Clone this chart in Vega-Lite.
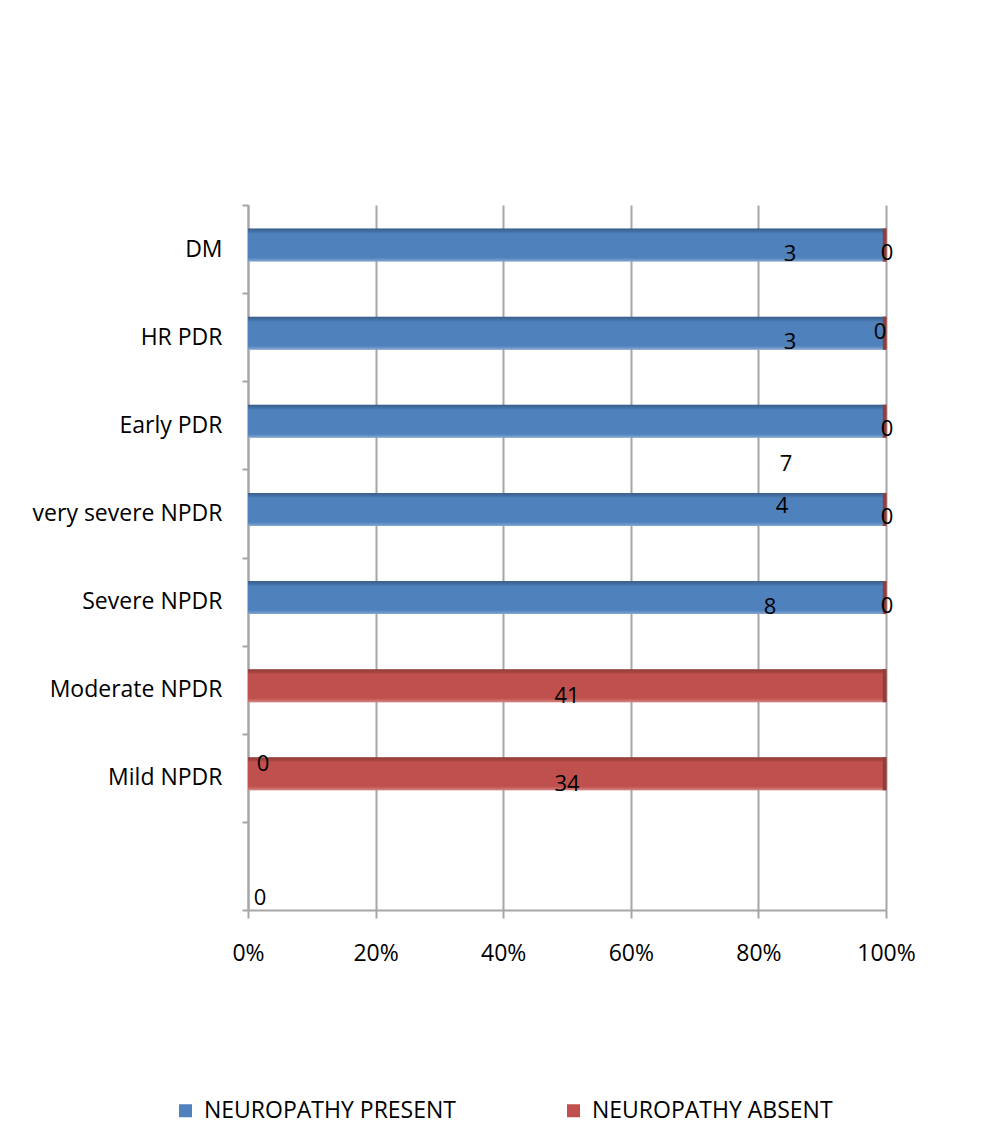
{
  "$schema": "https://vega.github.io/schema/vega-lite/v6.json",
  "width": 638,
  "height": 705,
  "autosize": {"type": "none"},
  "padding": {"left": 248, "top": 205, "right": 106, "bottom": 237},
  "background": "white",
  "config": {
    "view": {"stroke": null},
    "font": "Open Sans",
    "text": {"font": "Open Sans", "fontSize": 22, "color": "black", "align": "center", "baseline": "middle"}
  },
  "data": {
    "values": [
      {"category": "DM", "series": "NEUROPATHY PRESENT", "value": 3},
      {"category": "DM", "series": "NEUROPATHY ABSENT", "value": 0},
      {"category": "HR PDR", "series": "NEUROPATHY PRESENT", "value": 3},
      {"category": "HR PDR", "series": "NEUROPATHY ABSENT", "value": 0},
      {"category": "Early PDR", "series": "NEUROPATHY PRESENT", "value": 7},
      {"category": "Early PDR", "series": "NEUROPATHY ABSENT", "value": 0},
      {"category": "very severe NPDR", "series": "NEUROPATHY PRESENT", "value": 4},
      {"category": "very severe NPDR", "series": "NEUROPATHY ABSENT", "value": 0},
      {"category": "Severe NPDR", "series": "NEUROPATHY PRESENT", "value": 8},
      {"category": "Severe NPDR", "series": "NEUROPATHY ABSENT", "value": 0},
      {"category": "Moderate NPDR", "series": "NEUROPATHY PRESENT", "value": 0},
      {"category": "Moderate NPDR", "series": "NEUROPATHY ABSENT", "value": 41},
      {"category": "Mild NPDR", "series": "NEUROPATHY PRESENT", "value": 0},
      {"category": "Mild NPDR", "series": "NEUROPATHY ABSENT", "value": 34},
      {"category": " ", "series": "NEUROPATHY PRESENT", "value": 0},
      {"category": " ", "series": "NEUROPATHY ABSENT", "value": 0}
    ]
  },
  "encoding": {
    "y": {
      "field": "category",
      "type": "nominal",
      "title": null,
      "scale": {
        "domain": ["DM", "HR PDR", "Early PDR", "very severe NPDR", "Severe NPDR", "Moderate NPDR", "Mild NPDR", " "],
        "paddingInner": 0,
        "paddingOuter": 0
      },
      "axis": {
        "tickBand": "extent",
        "grid": false,
        "domainColor": "#a6a6a6",
        "domainWidth": 2,
        "tickColor": "#a6a6a6",
        "tickWidth": 2,
        "tickSize": 6,
        "labelFontSize": 23,
        "labelColor": "black",
        "labelPadding": 20,
        "labelLimit": 400,
        "labelFont": "Open Sans"
      }
    }
  },
  "layer": [
    {
      "transform": [{"filter": "datum.category !== ' '"}],
      "mark": {"type": "bar", "height": {"band": 0.375}},
      "encoding": {
        "x": {
          "field": "value",
          "type": "quantitative",
          "stack": "normalize",
          "title": null,
          "scale": {"domain": [0, 1], "nice": false},
          "axis": {
            "format": "%",
            "values": [0, 0.2, 0.4, 0.6, 0.8, 1],
            "grid": true,
            "gridColor": "#a6a6a6",
            "gridWidth": 2,
            "domainColor": "#a6a6a6",
            "domainWidth": 2,
            "tickColor": "#a6a6a6",
            "tickWidth": 2,
            "tickSize": 8,
            "labelFontSize": 23,
            "labelColor": "black",
            "labelPadding": 24,
            "labelFlush": false,
            "labelOverlap": false,
            "labelFont": "Open Sans"
          }
        },
        "yOffset": {"value": -4},
        "color": {
          "field": "series",
          "type": "nominal",
          "scale": {
            "domain": ["NEUROPATHY PRESENT", "NEUROPATHY ABSENT"],
            "range": ["#4F81BD", "#C0504D"]
          },
          "legend": {
            "orient": "none",
            "legendX": -74,
            "legendY": 894,
            "direction": "horizontal",
            "title": null,
            "symbolType": "square",
            "symbolSize": 169,
            "symbolStrokeWidth": 0,
            "labelFontSize": 23,
            "labelColor": "black",
            "labelFont": "Open Sans",
            "labelLimit": 500,
            "labelOffset": 7,
            "columnPadding": 106
          }
        },
        "order": {"field": "series", "sort": "descending"}
      }
    },
    {
      "transform": [{"filter": "datum.series === 'NEUROPATHY ABSENT' && datum.category !== ' '"}],
      "mark": {
        "type": "bar",
        "height": {"band": 0.375},
        "color": {
          "gradient": "linear",
          "x1": 0, "y1": 0, "x2": 0, "y2": 1,
          "stops": [
            {"offset": 0, "color": "rgba(0,0,0,0.28)"},
            {"offset": 0.1, "color": "rgba(0,0,0,0.12)"},
            {"offset": 0.16, "color": "rgba(0,0,0,0)"},
            {"offset": 0.88, "color": "rgba(255,255,255,0)"},
            {"offset": 1, "color": "rgba(255,255,255,0.3)"}
          ]
        }
      },
      "encoding": {"x": {"datum": 0}, "x2": {"datum": 1}, "yOffset": {"value": -4}}
    },
    {
      "transform": [{"filter": "datum.series === 'NEUROPATHY ABSENT' && datum.category !== ' '"}],
      "mark": {"type": "bar", "height": {"band": 0.375}, "color": "#943c39"},
      "encoding": {"x": {"datum": 0.995}, "x2": {"datum": 1.001}, "yOffset": {"value": -4}}
    },
    {
      "transform": [{"filter": "datum.series === 'NEUROPATHY PRESENT' && (datum.category === 'DM' || datum.category === 'HR PDR')"}],
      "mark": {"type": "text", "dx": -96, "dy": 5},
      "encoding": {"x": {"datum": 1}, "text": {"field": "value"}}
    },
    {
      "transform": [{"filter": "datum.series === 'NEUROPATHY PRESENT' && datum.category === 'Early PDR'"}],
      "mark": {"type": "text", "dx": -100, "dy": 39},
      "encoding": {"x": {"datum": 1}, "text": {"field": "value"}}
    },
    {
      "transform": [{"filter": "datum.series === 'NEUROPATHY PRESENT' && datum.category === 'very severe NPDR'"}],
      "mark": {"type": "text", "dx": -104, "dy": -7},
      "encoding": {"x": {"datum": 1}, "text": {"field": "value"}}
    },
    {
      "transform": [{"filter": "datum.series === 'NEUROPATHY PRESENT' && datum.category === 'Severe NPDR'"}],
      "mark": {"type": "text", "dx": -116, "dy": 5},
      "encoding": {"x": {"datum": 1}, "text": {"field": "value"}}
    },
    {
      "transform": [{"filter": "datum.series === 'NEUROPATHY ABSENT' && datum.value === 0 && datum.category !== 'HR PDR' && datum.category !== ' '"}],
      "mark": {"type": "text", "dx": 1, "dy": 4},
      "encoding": {"x": {"datum": 1}, "text": {"field": "value"}}
    },
    {
      "transform": [{"filter": "datum.series === 'NEUROPATHY ABSENT' && datum.category === 'HR PDR'"}],
      "mark": {"type": "text", "dx": -6, "dy": -5},
      "encoding": {"x": {"datum": 1}, "text": {"field": "value"}}
    },
    {
      "transform": [{"filter": "datum.series === 'NEUROPATHY ABSENT' && datum.value > 0"}],
      "mark": {"type": "text", "dy": 6},
      "encoding": {"x": {"datum": 0.5}, "text": {"field": "value"}}
    },
    {
      "transform": [{"filter": "datum.series === 'NEUROPATHY PRESENT' && datum.category === 'Mild NPDR'"}],
      "mark": {"type": "text", "dx": 15, "dy": -14},
      "encoding": {"x": {"datum": 0}, "text": {"field": "value"}}
    },
    {
      "transform": [{"filter": "datum.series === 'NEUROPATHY PRESENT' && datum.category === ' '"}],
      "mark": {"type": "text", "dx": 12, "dy": 32},
      "encoding": {"x": {"datum": 0}, "text": {"field": "value"}}
    }
  ]
}
